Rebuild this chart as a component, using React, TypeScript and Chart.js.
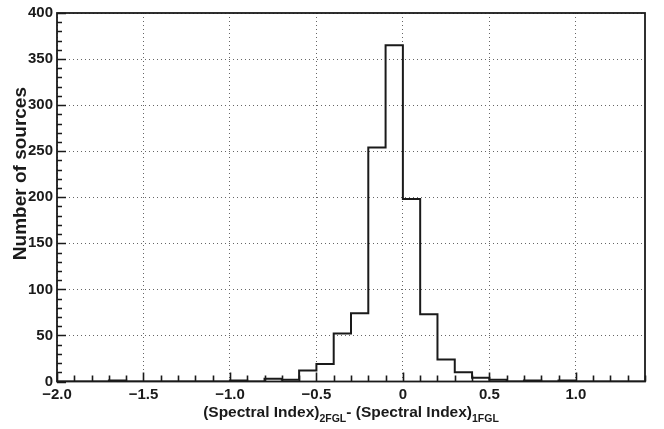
import React, { useEffect, useRef } from 'react';
import { Chart, registerables } from 'chart.js';

Chart.register(...registerables);

// Histogram data: bins of width 0.1 starting at -2.0
const binStart = -2.0;
const binWidth = 0.1;
const counts = [
  0, 0, 0, 1, 0, 0, 0, 0, 0, 0, // -2.0 .. -1.1
  1, 0, 3, 2, 12, 19, 52, 74, 254, 365, // -1.0 .. -0.1
  198, 73, 24, 10, 4, 2, 0, 1, 0, 1, // 0.0 .. 0.9
  0, 0, 0, 0, // 1.0 .. 1.3
];

const xMin = -2.0;
const xMax = 1.4;
const yMin = 0;
const yMax = 400;

const xTickValues = [-2, -1.5, -1, -0.5, 0, 0.5, 1];
const xTickLabels = ['\u22122.0', '\u22121.5', '\u22121.0', '\u22120.5', '0', '0.5', '1.0'];
const yTickValues = [0, 50, 100, 150, 200, 250, 300, 350, 400];
const xMinorStep = 0.1;
const yMinorStep = 10;

const yTitle = 'Number of sources';
const xTitleParts = [
  { text: '(Spectral Index)', sub: false },
  { text: '2FGL', sub: true },
  { text: '- (Spectral Index)', sub: false },
  { text: '1FGL', sub: true },
];

const FONT = '"Liberation Sans", Arial, Helvetica, sans-serif';
const INK = '#1a1a1a';

const framePlugin = {
  id: 'rootFrame',
  afterDraw(chart: any) {
    const { ctx, chartArea } = chart;
    const xs = chart.scales.x;
    const ys = chart.scales.y;
    const { left, right, top, bottom } = chartArea;
    ctx.save();
    ctx.strokeStyle = INK;
    ctx.lineWidth = 1.6;
    // ticks on x axis (inward)
    ctx.beginPath();
    const nx = Math.round((xMax - xMin) / xMinorStep);
    for (let i = 0; i <= nx; i++) {
      const v = xMin + i * xMinorStep;
      const isMajor = xTickValues.some((t) => Math.abs(t - v) < 1e-6);
      const px = Math.round(xs.getPixelForValue(v)) + 0.5;
      const len = isMajor ? 9 : 6;
      ctx.moveTo(px, bottom);
      ctx.lineTo(px, bottom - len);
    }
    const ny = Math.round((yMax - yMin) / yMinorStep);
    for (let i = 0; i <= ny; i++) {
      const v = yMin + i * yMinorStep;
      const isMajor = yTickValues.some((t) => Math.abs(t - v) < 1e-6);
      const py = Math.round(ys.getPixelForValue(v)) + 0.5;
      const len = isMajor ? 9 : 5;
      ctx.moveTo(left, py);
      ctx.lineTo(left + len, py);
    }
    ctx.stroke();
    // frame
    ctx.lineWidth = 1.8;
    ctx.strokeRect(left, top, right - left, bottom - top);

    // y title
    ctx.fillStyle = INK;
    ctx.font = `bold 19px ${FONT}`;
    ctx.save();
    ctx.translate(25.5, 87);
    ctx.rotate(-Math.PI / 2);
    ctx.textAlign = 'right';
    ctx.textBaseline = 'alphabetic';
    ctx.fillText(yTitle, 0, 0);
    ctx.restore();

    // x title with subscripts
    const mainFont = `bold 15.5px ${FONT}`;
    const subFont = `bold 10.5px ${FONT}`;
    let total = 0;
    const widths = xTitleParts.map((p) => {
      ctx.font = p.sub ? subFont : mainFont;
      const w = ctx.measureText(p.text).width;
      total += w;
      return w;
    });
    let x = (left + right) / 2 - total / 2;
    const base = 417;
    ctx.textAlign = 'left';
    ctx.textBaseline = 'alphabetic';
    xTitleParts.forEach((p, i) => {
      ctx.font = p.sub ? subFont : mainFont;
      ctx.fillText(p.text, x, p.sub ? base + 5 : base);
      x += widths[i];
    });
    ctx.restore();
  },
};

export default function App() {
  const ref = useRef<HTMLCanvasElement | null>(null);

  useEffect(() => {
    if (!ref.current) return;
    const points = counts.map((c, i) => ({
      x: +(binStart + i * binWidth).toFixed(2),
      y: c,
    }));
    points.push({
      x: +(binStart + counts.length * binWidth).toFixed(2),
      y: counts[counts.length - 1],
    });

    const chart = new Chart(ref.current, {
      type: 'line',
      data: {
        datasets: [
          {
            data: points,
            stepped: true,
            borderColor: INK,
            borderWidth: 2,
            pointRadius: 0,
            fill: false,
            tension: 0,
          },
        ],
      },
      options: {
        responsive: false,
        animation: false,
        events: [],
        layout: { padding: { left: 0, right: 19, top: 12, bottom: 0 } },
        plugins: {
          legend: { display: false },
          tooltip: { enabled: false },
          title: { display: false },
        },
        scales: {
          x: {
            type: 'linear',
            min: xMin,
            max: xMax,
            afterBuildTicks: (scale: any) => {
              scale.ticks = xTickValues.map((v) => ({ value: v }));
            },
            afterFit: (scale: any) => {
              scale.height = 47.5;
            },
            ticks: {
              autoSkip: false,
              maxRotation: 0,
              padding: 4,
              color: INK,
              font: { family: FONT, size: 15, weight: 'bold' },
              callback: (value: any) => {
                const idx = xTickValues.findIndex((t) => Math.abs(t - Number(value)) < 1e-6);
                return idx >= 0 ? xTickLabels[idx] : '';
              },
            },
            grid: {
              drawTicks: false,
              color: '#666666',
              lineWidth: 1,
            },
            border: { display: false, dash: [1, 3] },
          },
          y: {
            type: 'linear',
            min: yMin,
            max: yMax,
            afterBuildTicks: (scale: any) => {
              scale.ticks = yTickValues.map((v) => ({ value: v }));
            },
            afterFit: (scale: any) => {
              scale.width = 57;
            },
            ticks: {
              padding: 4,
              color: INK,
              font: { family: FONT, size: 15, weight: 'bold' },
            },
            grid: {
              drawTicks: false,
              color: '#666666',
              lineWidth: 1,
            },
            border: { display: false, dash: [1, 3] },
          },
        },
      },
      plugins: [framePlugin],
    });
    return () => chart.destroy();
  }, []);

  return (
    <div style={{ position: 'fixed', left: 0, top: 0, width: 664, height: 429, background: '#fff' }}>
      <canvas ref={ref} width={664} height={429} style={{ width: 664, height: 429 }} />
    </div>
  );
}
